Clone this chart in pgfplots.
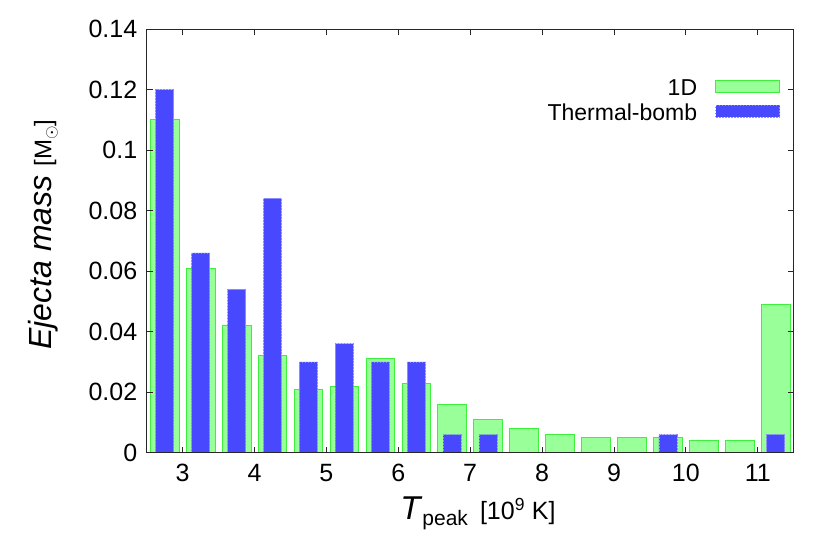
\documentclass[border=0pt]{standalone}
\usepackage{pgfplots}
\pgfplotsset{compat=1.18}
\usepackage{fontspec}
\setmainfont{Liberation Sans}
\definecolor{oneDfill}{RGB}{153,255,153}
\definecolor{oneDedge}{RGB}{60,240,60}
\definecolor{tbfill}{RGB}{72,72,255}
\definecolor{tbedge}{RGB}{140,140,255}
\pgfplotsset{my bar legend/.style={legend image code/.code={\draw[##1] (0pt,-4pt) rectangle (64pt,8pt);}}}
\begin{document}
\begin{tikzpicture}
\path[use as bounding box] (-146.7pt,-101.3pt) rectangle (683.3pt,452.7pt);
\begin{axis}[
    at={(0pt,0pt)}, anchor=south west,
    scale only axis,
    width=647pt, height=423.7pt,
    xmin=2.5, xmax=11.5,
    ymin=0, ymax=0.14,
    xtick={3,4,5,6,7,8,9,10,11},
    xticklabels={3,4,5,6,7,8,9,10,11},
    ytick={0,0.02,0.04,0.06,0.08,0.1,0.12,0.14},
    yticklabels={0,0.02,0.04,0.06,0.08,0.1,0.12,0.14},
    tick align=inside,
    major tick length=6pt,
    axis line style={line width=0.8pt, black!85},
    every tick/.style={line width=0.8pt, black!85},
    axis on top,
    /pgf/number format/assume math mode=true,
    ticklabel style={font=\fontsize{25}{25}\selectfont},
    xticklabel style={yshift=-8pt},
    yticklabel style={xshift=-6pt},
    xlabel={\fontsize{33}{33}\selectfont\textit{T}\raisebox{-6pt}{\fontsize{21}{21}\selectfont peak}\hspace{12pt}\fontsize{25}{25}\selectfont[10\textsuperscript{9} K]},
    xlabel style={at={(axis description cs:0.512,0)}, anchor=base, yshift=-67pt},
    ylabel={\fontsize{32}{32}\selectfont\textit{Ejecta mass} \fontsize{24}{24}\selectfont[M\raisebox{-5pt}{\fontsize{17}{17}\selectfont$\odot$}]},
    ylabel style={at={(axis description cs:-0.16,0.515)}, anchor=center},
    legend style={draw=none, fill=none, at={(0.979,0.885)}, anchor=north east,
        inner sep=0pt, font=\fontsize{23}{23}\selectfont,
        /tikz/column sep=16pt, /tikz/row sep=3pt},
    legend cell align=right,
    legend plot pos=right,
]
\addplot[ybar, bar width=0.4, bar shift=0pt, fill=oneDfill, draw=oneDedge, line width=0.8pt,
    my bar legend]
coordinates {
(2.75,0.110) (3.25,0.061) (3.75,0.042) (4.25,0.032) (4.75,0.021) (5.25,0.022)
(5.75,0.031) (6.25,0.023) (6.75,0.016) (7.25,0.011) (7.75,0.008) (8.25,0.006)
(8.75,0.005) (9.25,0.005) (9.75,0.005) (10.25,0.004) (10.75,0.004) (11.25,0.049)
};
\addlegendentry{1D}
\addplot[ybar, bar width=0.25, bar shift=0pt, fill=tbfill, draw=tbedge, line width=0.6pt,
    dash pattern=on 1.5pt off 1.5pt, my bar legend]
coordinates {
(2.75,0.120) (3.25,0.066) (3.75,0.054) (4.25,0.084) (4.75,0.030) (5.25,0.036)
(5.75,0.030) (6.25,0.030) (6.75,0.006) (7.25,0.006) (9.75,0.006) (11.25,0.006)
};
\addlegendentry{Thermal-bomb}
\end{axis}
\end{tikzpicture}
\end{document}
